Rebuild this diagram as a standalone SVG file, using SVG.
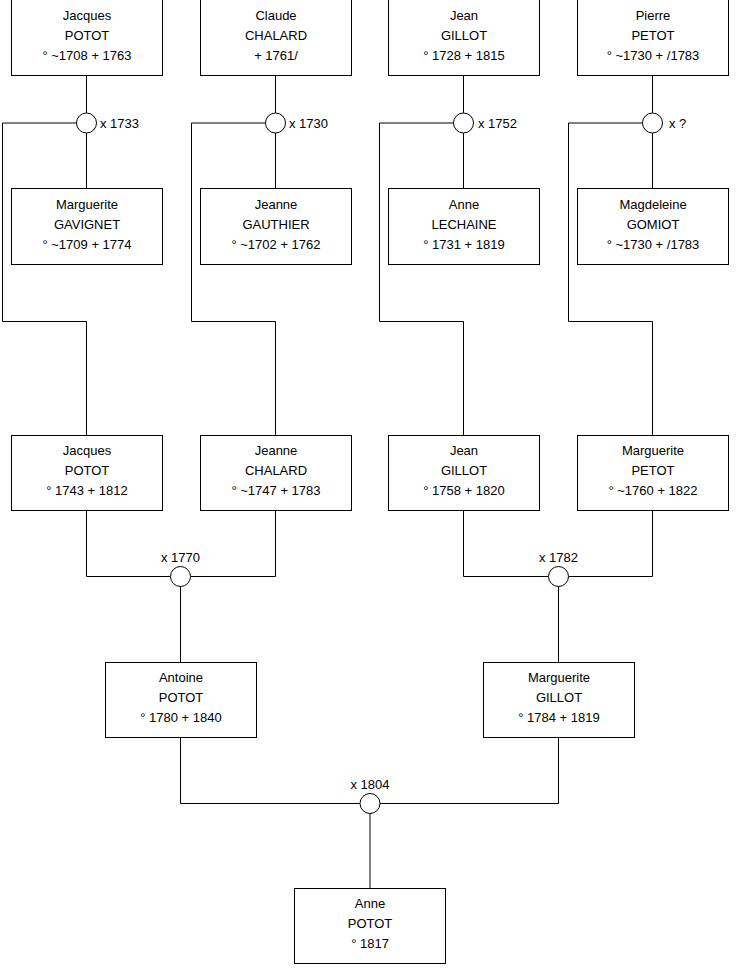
<svg xmlns="http://www.w3.org/2000/svg" width="740" height="975" viewBox="0 0 740 975">
<style>
.box{fill:#fff;stroke:#000;stroke-width:1}
.t{font-family:"Liberation Sans",Arial,sans-serif;font-size:13px;fill:#000;text-anchor:middle}
.l{font-family:"Liberation Sans",Arial,sans-serif;font-size:13px;fill:#000}
.c{fill:#fff;stroke:#000;stroke-width:1}
.w{fill:none;stroke:#000;stroke-width:1}
</style>
<rect width="740" height="975" fill="#fff"/>
<g id="connectors">
<path class="w" d="M86.5 76V113M86.5 133V188M76.5 123H2.5V321.5H86.5V435"/>
<path class="w" d="M275.5 76V113M275.5 133V188M265.5 123H191.5V321.5H275.5V435"/>
<path class="w" d="M463.5 76V113M463.5 133V188M453.5 123H379.5V321.5H463.5V435"/>
<path class="w" d="M652.5 76V113M652.5 133V188M642.5 123H568.5V321.5H652.5V435"/>
<path class="w" d="M86.5 510V576.5H170.5M190.5 576.5H275.5V510M180.5 586.5V662"/>
<path class="w" d="M463.5 510V576.5H548.5M568.5 576.5H652.5V510M558.5 586.5V662"/>
<path class="w" d="M180.5 737V803.5H360M380 803.5H558.5V737M370 813.5V888"/>
<circle class="c" cx="86.5" cy="123" r="10"/>
<circle class="c" cx="275.5" cy="123" r="10"/>
<circle class="c" cx="463.5" cy="123" r="10"/>
<circle class="c" cx="652.5" cy="123" r="10"/>
<circle class="c" cx="180.5" cy="576.5" r="10"/>
<circle class="c" cx="558.5" cy="576.5" r="10"/>
<circle class="c" cx="370" cy="803.5" r="10"/>
<text class="l" x="100" y="128">x 1733</text>
<text class="l" x="289" y="128">x 1730</text>
<text class="l" x="478" y="128">x 1752</text>
<text class="l" x="669" y="128">x ?</text>
<text class="t" x="180.5" y="562">x 1770</text>
<text class="t" x="558.5" y="562">x 1782</text>
<text class="t" x="370" y="789">x 1804</text>
</g>
<g id="n1"><rect class="box" x="11.5" y="-0.5" width="151" height="76"/><text class="t" x="87" y="20">Jacques</text><text class="t" x="87" y="40">POTOT</text><text class="t" x="87" y="60">° ~1708 + 1763</text></g>
<g id="n2"><rect class="box" x="200.5" y="-0.5" width="151" height="76"/><text class="t" x="276" y="20">Claude</text><text class="t" x="276" y="40">CHALARD</text><text class="t" x="276" y="60">+ 1761/</text></g>
<g id="n3"><rect class="box" x="388.5" y="-0.5" width="151" height="76"/><text class="t" x="464" y="20">Jean</text><text class="t" x="464" y="40">GILLOT</text><text class="t" x="464" y="60">° 1728 + 1815</text></g>
<g id="n4"><rect class="box" x="577.5" y="-0.5" width="151" height="76"/><text class="t" x="653" y="20">Pierre</text><text class="t" x="653" y="40">PETOT</text><text class="t" x="653" y="60">° ~1730 + /1783</text></g>
<g id="n5"><rect class="box" x="11.5" y="188.5" width="151" height="76"/><text class="t" x="87" y="209">Marguerite</text><text class="t" x="87" y="229">GAVIGNET</text><text class="t" x="87" y="249">° ~1709 + 1774</text></g>
<g id="n6"><rect class="box" x="200.5" y="188.5" width="151" height="76"/><text class="t" x="276" y="209">Jeanne</text><text class="t" x="276" y="229">GAUTHIER</text><text class="t" x="276" y="249">° ~1702 + 1762</text></g>
<g id="n7"><rect class="box" x="388.5" y="188.5" width="151" height="76"/><text class="t" x="464" y="209">Anne</text><text class="t" x="464" y="229">LECHAINE</text><text class="t" x="464" y="249">° 1731 + 1819</text></g>
<g id="n8"><rect class="box" x="577.5" y="188.5" width="151" height="76"/><text class="t" x="653" y="209">Magdeleine</text><text class="t" x="653" y="229">GOMIOT</text><text class="t" x="653" y="249">° ~1730 + /1783</text></g>
<g id="n9"><rect class="box" x="11.5" y="435.5" width="151" height="75"/><text class="t" x="87" y="455">Jacques</text><text class="t" x="87" y="475">POTOT</text><text class="t" x="87" y="495">° 1743 + 1812</text></g>
<g id="n10"><rect class="box" x="200.5" y="435.5" width="151" height="75"/><text class="t" x="276" y="455">Jeanne</text><text class="t" x="276" y="475">CHALARD</text><text class="t" x="276" y="495">° ~1747 + 1783</text></g>
<g id="n11"><rect class="box" x="388.5" y="435.5" width="151" height="75"/><text class="t" x="464" y="455">Jean</text><text class="t" x="464" y="475">GILLOT</text><text class="t" x="464" y="495">° 1758 + 1820</text></g>
<g id="n12"><rect class="box" x="577.5" y="435.5" width="151" height="75"/><text class="t" x="653" y="455">Marguerite</text><text class="t" x="653" y="475">PETOT</text><text class="t" x="653" y="495">° ~1760 + 1822</text></g>
<g id="n13"><rect class="box" x="105.5" y="662.5" width="151" height="75"/><text class="t" x="181" y="682">Antoine</text><text class="t" x="181" y="702">POTOT</text><text class="t" x="181" y="722">° 1780 + 1840</text></g>
<g id="n14"><rect class="box" x="483.5" y="662.5" width="151" height="75"/><text class="t" x="559" y="682">Marguerite</text><text class="t" x="559" y="702">GILLOT</text><text class="t" x="559" y="722">° 1784 + 1819</text></g>
<g id="n15"><rect class="box" x="294.5" y="888.5" width="151" height="75"/><text class="t" x="370" y="908">Anne</text><text class="t" x="370" y="928">POTOT</text><text class="t" x="370" y="948">° 1817</text></g>
</svg>
